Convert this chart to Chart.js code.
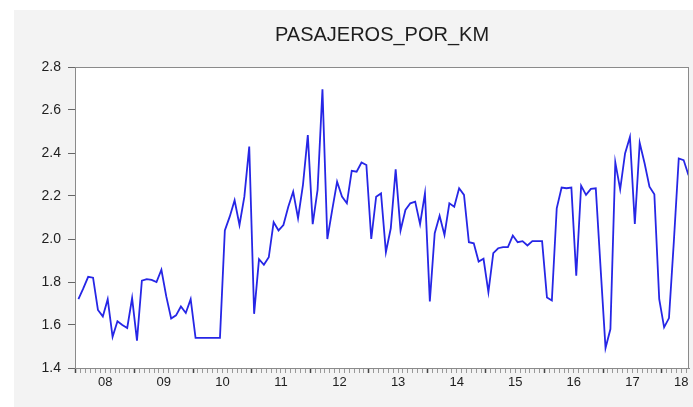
<!DOCTYPE html>
<html>
<head>
<meta charset="utf-8">
<script src="https://cdn.jsdelivr.net/npm/chart.js@4"></script>
<style>
    html, body { margin: 0; padding: 0; background: #ffffff; }
    #wrap { width: 693px; height: 407px; }
</style>
</head>
<body>
<div id="wrap"><canvas id="chart" width="693" height="407"></canvas></div>
<script>
// year labels under the x axis (two digits, as in the EViews graph)
const yearLabels = ['08', '09', '10', '11', '12', '13', '14', '15', '16', '17', '18'];

// monthly values, 2008M01 .. 2018M06
const values = [
    1.72, 1.77, 1.824, 1.82, 1.67, 1.64, 1.72, 1.545, 1.617, 1.60, 1.586, 1.725,
    1.527, 1.806, 1.813, 1.81, 1.80, 1.857, 1.733, 1.63, 1.645, 1.686, 1.656, 1.72,
    1.54, 1.54, 1.54, 1.54, 1.54, 1.54, 2.04, 2.104, 2.18, 2.065, 2.197, 2.43,
    1.652, 1.906, 1.88, 1.915, 2.078, 2.04, 2.065, 2.15, 2.22, 2.097, 2.25, 2.483,
    2.069, 2.228, 2.696, 2.0, 2.135, 2.266, 2.197, 2.166, 2.317, 2.313, 2.356, 2.344,
    2.0, 2.197, 2.212, 1.939, 2.05, 2.324, 2.04, 2.135, 2.166, 2.174, 2.069, 2.212,
    1.71, 2.027, 2.108, 2.019, 2.166, 2.15, 2.236, 2.205, 1.985, 1.98, 1.895, 1.908,
    1.753, 1.934, 1.957, 1.962, 1.962, 2.016, 1.985, 1.99, 1.97, 1.99, 1.99, 1.99,
    1.728, 1.714, 2.143, 2.239, 2.236, 2.239, 1.829, 2.248, 2.205, 2.233, 2.236, 1.86,
    1.493, 1.581, 2.356, 2.231, 2.398, 2.475, 2.07, 2.447, 2.352, 2.243, 2.208, 1.72,
    1.589, 1.632, 1.99, 2.375, 2.367, 2.297
];

// y axis tick values
const yTicks = [1.4, 1.6, 1.8, 2.0, 2.2, 2.4, 2.6, 2.8];

// grey panel behind the graph, white plot area and a frame round it
const framePlugin = {
    id: 'frame',
    beforeDraw(chart) {
        const ctx = chart.ctx;
        const a = chart.chartArea;
        ctx.save();
        ctx.fillStyle = '#f3f3f3';
        ctx.fillRect(14, 10, chart.width - 14, chart.height - 10);
        ctx.fillStyle = '#ffffff';
        ctx.fillRect(a.left, a.top, a.right - a.left, a.bottom - a.top);
        ctx.restore();
    },
    afterDraw(chart) {
        const ctx = chart.ctx;
        const a = chart.chartArea;
        ctx.save();
        ctx.strokeStyle = '#8a8a8a';
        ctx.lineWidth = 1;
        ctx.strokeRect(a.left + 0.5, a.top + 0.5, a.right - a.left - 1, a.bottom - a.top);
        ctx.restore();
    }
};

// the label of a year sits in the middle of its months
function yearLabelAt(value) {
    const j = Math.round(value + 0.5);
    const k = Math.floor(j / 12);
    if (k < yearLabels.length - 1 && j % 12 === 6) return yearLabels[k];
    if (j === values.length - 2) return yearLabels[yearLabels.length - 1];
    return '';
}

const ctx = document.getElementById('chart').getContext('2d');
new Chart(ctx, {
    type: 'line',
    data: {
        datasets: [{
            label: 'PASAJEROS_POR_KM',
            data: values.map((v, i) => ({ x: i, y: v })),
            borderColor: '#2626e6',
            borderWidth: 1.8,
            pointRadius: 0,
            tension: 0,
            fill: false
        }]
    },
    options: {
        responsive: false,
        devicePixelRatio: 1,
        animation: false,
        layout: { padding: { left: 0, right: 4, top: 0, bottom: 0 } },
        plugins: {
            legend: { display: false },
            tooltip: { enabled: false },
            title: {
                display: true,
                fullSize: false,   // centre the title over the plot, not the window
                text: 'PASAJEROS_POR_KM',
                color: '#1e1e1e',
                font: { family: 'Arial, "Liberation Sans"', size: 20, weight: 'normal' },
                padding: { top: 23, bottom: 20 }
            }
        },
        scales: {
            x: {
                type: 'linear',
                min: -0.7,
                max: values.length - 0.9,
                afterBuildTicks: (scale) => {
                    scale.ticks = values.map((v, i) => ({ value: i - 0.5 }));
                },
                ticks: {
                    autoSkip: false,
                    maxRotation: 0,
                    padding: 2,
                    color: '#1e1e1e',
                    font: { family: 'Arial, "Liberation Sans"', size: 13 },
                    callback: (value) => yearLabelAt(value)
                },
                grid: {
                    drawOnChartArea: false,
                    tickLength: 5,
                    tickColor: (c) => (Math.round(c.tick.value + 0.5) % 12 === 0 ? '#444' : '#999'),
                    tickWidth: (c) => (Math.round(c.tick.value + 0.5) % 12 === 0 ? 1.5 : 1)
                },
                border: { color: '#8a8a8a' },
                afterFit: (scale) => { scale.height = 39; }
            },
            y: {
                min: 1.4,
                max: 2.8,
                afterBuildTicks: (scale) => {
                    scale.ticks = yTicks.map(v => ({ value: v }));
                },
                ticks: {
                    padding: 7,
                    color: '#1e1e1e',
                    font: { family: 'Arial, "Liberation Sans"', size: 14 },
                    callback: (value) => value.toFixed(1)
                },
                grid: {
                    drawOnChartArea: false,
                    tickLength: 7,
                    tickColor: '#666'
                },
                border: { color: '#8a8a8a' },
                afterFit: (scale) => { scale.width = 75; }
            }
        }
    },
    plugins: [framePlugin]
});
</script>
</body>
</html>
